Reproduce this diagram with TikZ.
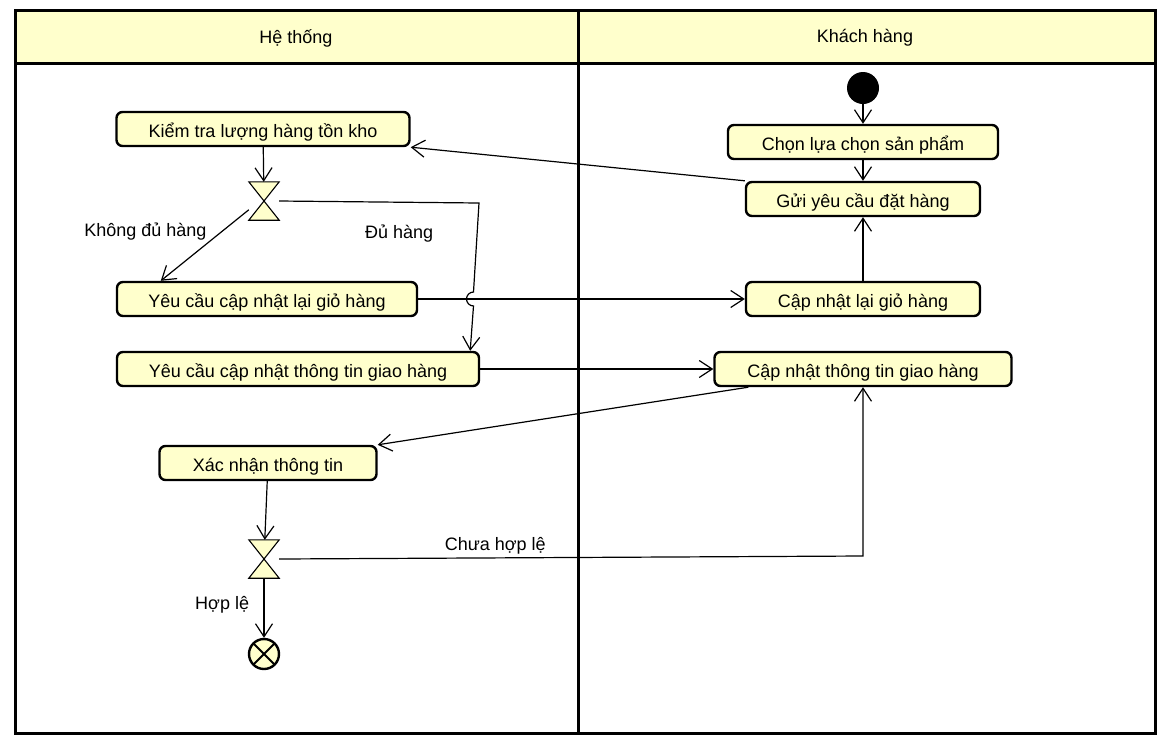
\documentclass[tikz,border=0pt]{standalone}
\usepackage{fontspec}
\setmainfont{Liberation Sans}
\usetikzlibrary{arrows.meta,positioning}
\definecolor{umlvang}{RGB}{255,255,204}

\begin{document}
\begin{tikzpicture}[x=1pt,y=-1pt,node distance=57pt,on grid,auto,
   font=\fontsize{18}{21}\selectfont,
   >={Straight Barb[length=13pt,width=17pt]},
   every edge/.style={draw,line width=1.2pt},
   action/.style={draw,line width=2.4pt,rounded corners=6pt,fill=umlvang,
                  minimum height=34pt,inner sep=0pt,text height=18pt,text depth=2pt},
   decision/.style={minimum width=30pt,minimum height=38pt,inner sep=0pt},
   hourglass/.style={draw,line width=1.1pt,fill=umlvang,line join=miter},
   initial/.style={circle,fill=black,minimum size=32pt,inner sep=0pt},
   final/.style={circle,draw,line width=2.4pt,fill=umlvang,minimum size=30pt,inner sep=0pt,
      path picture={\draw[line width=2pt] (path picture bounding box.north west) -- (path picture bounding box.south east)
                    (path picture bounding box.north east) -- (path picture bounding box.south west);}},
   lane/.style={line width=3pt}]
   \useasboundingbox (0,0) rectangle (1168,740);
   % swimlanes
   \filldraw[lane,fill=umlvang] (15,10) rectangle (1155,63);
   \draw[lane] (15,10) rectangle (1155,733);
   \draw[lane] (578,10) -- (578,733);
   \node (hethong) at (296,38) {Hệ thống};
   \node (khachhang) at (865,38) {Khách hàng};

   % He thong
   \node[action,minimum width=293pt] (kiemtra) at (263,129) {Kiểm tra lượng hàng tồn kho};
   \node[decision] (nhanh1) at (264,201) {};
   \node[action,minimum width=300pt] (yeucaugio) at (267,299) {Yêu cầu cập nhật lại giỏ hàng};
   \node[action,minimum width=362pt] (yeucaugiao) at (298,369) {Yêu cầu cập nhật thông tin giao hàng};
   \node[action,minimum width=217pt] (xacnhan) at (268,463) {Xác nhận thông tin};
   \node[decision] (nhanh2) at (264,559) {};
   \node[final] (ketthuc) at (264,654) {};
   \draw[hourglass] (nhanh1.north west) -- (nhanh1.north east) -- (nhanh1.south west) -- (nhanh1.south east) -- cycle;
   \draw[hourglass] (nhanh2.north west) -- (nhanh2.north east) -- (nhanh2.south west) -- (nhanh2.south east) -- cycle;

   % Khach hang
   \node[initial] (batdau) at (863,88) {};
   \node[action,minimum width=270pt] (chon) at (863,142) {Chọn lựa chọn sản phẩm};
   \node[action,minimum width=234pt] (gui) [below=of chon] {Gửi yêu cầu đặt hàng};
   \node[action,minimum width=234pt] (capnhatgio) at (863,299) {Cập nhật lại giỏ hàng};
   \node[action,minimum width=297pt] (capnhatgiao) at (863,369) {Cập nhật thông tin giao hàng};

   \coordinate (goc1) at (479,203);
   \coordinate (nhay) at (473.5,292);
   \coordinate (goc2) at (863,556);

   \path[->]
   (batdau) edge (chon)
   (chon) edge (gui)
   (kiemtra) edge (nhanh1)
   (capnhatgio) edge (gui)
   (yeucaugio) edge (capnhatgio)
   (yeucaugiao) edge (capnhatgiao)
   (xacnhan) edge (nhanh2)
   (nhanh2) edge node[swap,pos=.45,left=11pt] {Hợp lệ} (ketthuc)
   (gui.north west) edge (kiemtra.south east)
   (nhanh1.210) edge node[swap,pos=.3,left=12pt] {Không đủ hàng} ([xshift=45pt]yeucaugio.north west)
   ([xshift=35pt]capnhatgiao.south west) edge (xacnhan.north east);
   \draw[->,line width=1.2pt] (nhanh1.east) -- node[pos=.6,below=19pt] {Đủ hàng} (goc1) -- (nhay)
      arc[start angle=90,end angle=270,radius=7pt] -- ([xshift=-10pt]yeucaugiao.north east);
   \draw[->,line width=1.2pt] (nhanh2.east) -- node[pos=.37,above] {Chưa hợp lệ} (goc2) -- (capnhatgiao.south);
\end{tikzpicture}
\end{document}
